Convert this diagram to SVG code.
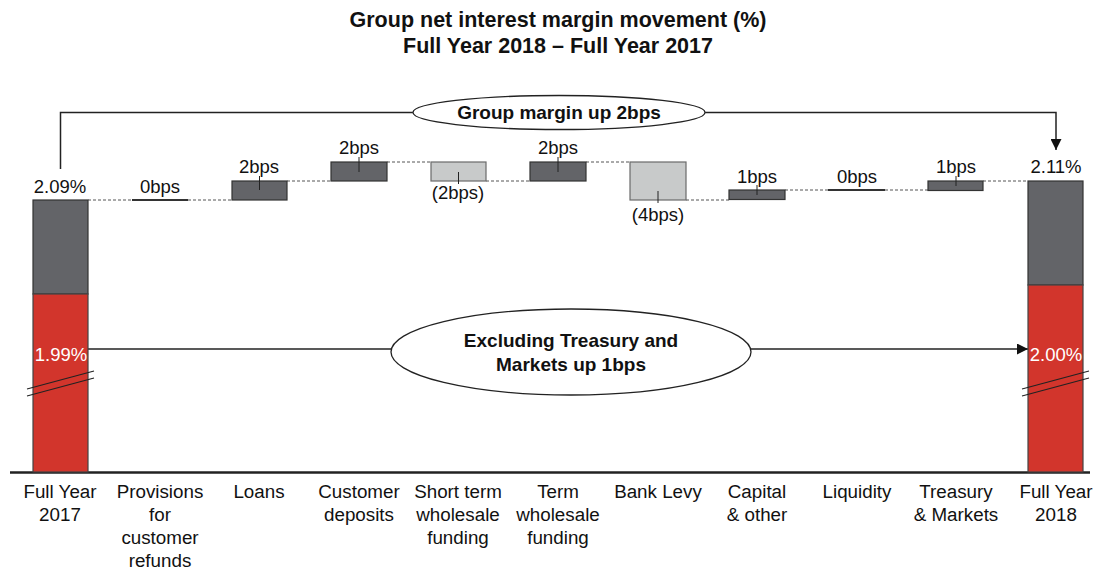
<svg xmlns="http://www.w3.org/2000/svg" width="1098" height="570" viewBox="0 0 1098 570">
<defs>
<style>
text{font-family:"Liberation Sans",Arial,sans-serif;fill:#111}
.t{font-size:21.5px;font-weight:bold;text-anchor:middle}
.c{font-size:18.8px;text-anchor:middle}
.v{font-size:18.5px;text-anchor:middle}
.b{font-size:19px;font-weight:bold;text-anchor:middle}
.w{fill:#fff}
.dk{fill:#636468;stroke:#333;stroke-width:1.2}
.lt{fill:#c8caca;stroke:#6a6a6a;stroke-width:1.2}
.rd{fill:#d2352c;stroke:#444;stroke-width:1.2}
.dash{stroke:#555;stroke-width:1;stroke-dasharray:3,2;fill:none}
.tk{stroke:#222;stroke-width:1}
.ln{stroke:#222;stroke-width:1.5;fill:none}
.el{fill:#fff;stroke:#222;stroke-width:1.3}
.br{stroke:#222;stroke-width:1.2}
</style>
<marker id="ah2" viewBox="0 0 10 10" refX="10" refY="5" markerWidth="11" markerHeight="11" markerUnits="userSpaceOnUse" orient="auto"><path d="M0,0L10,5L0,10z" fill="#111"/></marker>
</defs>
<text class="t" x="558" y="27">Group net interest margin movement (%)</text>
<text class="t" x="558" y="53">Full Year 2018 – Full Year 2017</text>

<g id="connectors">
<line class="dash" x1="88" y1="200" x2="132" y2="200"/>
<line class="dash" x1="188" y1="200" x2="232" y2="200"/>
<line class="dash" x1="287" y1="181" x2="331" y2="181"/>
<line class="dash" x1="387" y1="162" x2="431" y2="162"/>
<line class="dash" x1="486" y1="181" x2="530" y2="181"/>
<line class="dash" x1="586" y1="162" x2="630" y2="162"/>
<line class="dash" x1="686" y1="200" x2="729" y2="200"/>
<line class="dash" x1="785" y1="190" x2="828" y2="190"/>
<line class="dash" x1="885" y1="190" x2="928" y2="190"/>
<line class="dash" x1="983" y1="181" x2="1028" y2="181"/>
<polyline class="ln" points="60.5,169 60.5,112.5 413,112.5"/>
<polyline class="ln" points="705,112.5 1056,112.5 1056,150" marker-end="url(#ah2)"/>
<line class="ln" x1="88" y1="349" x2="391" y2="349"/>
<line class="ln" x1="751" y1="349" x2="1028" y2="349" marker-end="url(#ah2)"/>
</g>

<line x1="10" y1="472.5" x2="1090" y2="472.5" stroke="#222" stroke-width="2.5"/>

<g id="fy2017">
<rect class="dk" x="33" y="200" width="55" height="94"/>
<rect class="rd" x="33" y="294" width="55" height="178"/>
<line class="br" x1="27" y1="389" x2="94" y2="371"/>
<line class="br" x1="27" y1="396" x2="94" y2="378"/>
<text class="v" x="60" y="193">2.09%</text>
<text class="v w" x="61" y="361">1.99%</text>
<text class="c" x="60" y="498">Full Year</text>
<text class="c" x="60" y="521">2017</text>
</g>

<g id="provisions">
<rect x="132" y="199" width="56" height="2" fill="#333"/>
<text class="v" x="160" y="193">0bps</text>
<text class="c" x="160" y="498">Provisions</text>
<text class="c" x="160" y="521">for</text>
<text class="c" x="160" y="544">customer</text>
<text class="c" x="160" y="567">refunds</text>
</g>

<g id="loans">
<rect class="dk" x="232" y="181" width="55" height="19"/>
<line class="tk" x1="259.5" y1="176" x2="259.5" y2="190"/>
<text class="v" x="259" y="173">2bps</text>
<text class="c" x="259" y="498">Loans</text>
</g>

<g id="deposits">
<rect class="dk" x="331" y="162" width="56" height="19"/>
<line class="tk" x1="359" y1="157" x2="359" y2="172"/>
<text class="v" x="359" y="154">2bps</text>
<text class="c" x="359" y="498">Customer</text>
<text class="c" x="359" y="521">deposits</text>
</g>

<g id="shortterm">
<rect class="lt" x="431" y="162" width="55" height="19"/>
<line class="tk" x1="458.5" y1="172" x2="458.5" y2="184"/>
<text class="v" x="458" y="199">(2bps)</text>
<text class="c" x="458" y="498">Short term</text>
<text class="c" x="458" y="521">wholesale</text>
<text class="c" x="458" y="544">funding</text>
</g>

<g id="termwholesale">
<rect class="dk" x="530" y="162" width="56" height="19"/>
<line class="tk" x1="558" y1="157" x2="558" y2="172"/>
<text class="v" x="558" y="154">2bps</text>
<text class="c" x="558" y="498">Term</text>
<text class="c" x="558" y="521">wholesale</text>
<text class="c" x="558" y="544">funding</text>
</g>

<g id="banklevy">
<rect class="lt" x="630" y="162" width="56" height="38"/>
<line class="tk" x1="658" y1="191" x2="658" y2="203"/>
<text class="v" x="658" y="221">(4bps)</text>
<text class="c" x="658" y="498">Bank Levy</text>
</g>

<g id="capital">
<rect class="dk" x="729" y="190" width="56" height="9.5"/>
<line class="tk" x1="757" y1="185" x2="757" y2="195"/>
<text class="v" x="757" y="183">1bps</text>
<text class="c" x="757" y="498">Capital</text>
<text class="c" x="757" y="521">&amp; other</text>
</g>

<g id="liquidity">
<rect x="828" y="189" width="57" height="2" fill="#333"/>
<text class="v" x="857" y="183">0bps</text>
<text class="c" x="857" y="498">Liquidity</text>
</g>

<g id="treasury">
<rect class="dk" x="928" y="181" width="55" height="9.5"/>
<line class="tk" x1="956" y1="176" x2="956" y2="186"/>
<text class="v" x="956" y="173">1bps</text>
<text class="c" x="956" y="498">Treasury</text>
<text class="c" x="956" y="521">&amp; Markets</text>
</g>

<g id="fy2018">
<rect class="dk" x="1028" y="181" width="55" height="104"/>
<rect class="rd" x="1028" y="285" width="55" height="187"/>
<line class="br" x1="1022" y1="389" x2="1089" y2="371"/>
<line class="br" x1="1022" y1="396" x2="1089" y2="378"/>
<text class="v" x="1056" y="173">2.11%</text>
<text class="v w" x="1056" y="361">2.00%</text>
<text class="c" x="1056" y="498">Full Year</text>
<text class="c" x="1056" y="521">2018</text>
</g>

<g id="group-margin">
<ellipse class="el" cx="559" cy="112.5" rx="146" ry="17"/>
<text class="b" x="559" y="118.5">Group margin up 2bps</text>
</g>

<g id="excluding-tm">
<ellipse class="el" cx="571" cy="352" rx="180" ry="43"/>
<text class="b" x="571" y="347">Excluding Treasury and</text>
<text class="b" x="571" y="371">Markets up 1bps</text>
</g>
</svg>
